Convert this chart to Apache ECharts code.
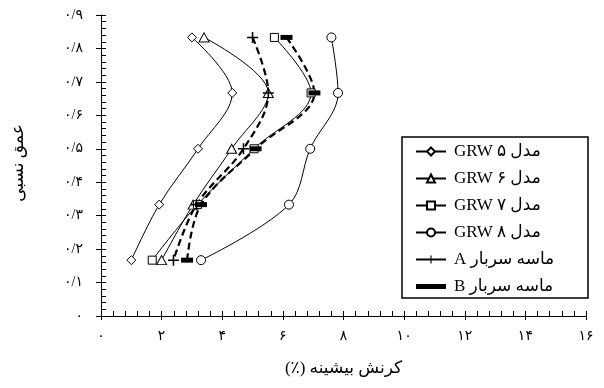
<!DOCTYPE html>
<html>
<head>
<meta charset="utf-8">
<script src="https://cdn.jsdelivr.net/npm/echarts@6/dist/echarts.min.js"></script>
<style>
  html, body { margin: 0; padding: 0; background: #fff; }
  #chart { width: 604px; height: 388px; }
</style>
</head>
<body>
<div id="chart"></div>
<script>
// Relative depth of each measuring level (shared by every profile)
const depth = [0.833, 0.667, 0.5, 0.333, 0.167];

// Peak strain (%) at each depth level
const grw5 = [3.0, 4.33, 3.2, 1.92, 1.0];
const grw6 = [3.4, 5.52, 4.31, 3.04, 2.0];
const grw7 = [5.72, 6.93, 5.05, 3.18, 1.69];
const grw8 = [7.6, 7.82, 6.9, 6.2, 3.3];
const surchargeA = [5.0, 5.52, 4.7, 3.15, 2.39];
const surchargeB = [6.12, 7.04, 5.1, 3.3, 2.84];

const seriesNames = ['مدل ۵ GRW', 'مدل ۶ GRW', 'مدل ۷ GRW', 'مدل ۸ GRW', 'ماسه سربار A', 'ماسه سربار B'];
const xTickLabels = ['۰', '۲', '۴', '۶', '۸', '۱۰', '۱۲', '۱۴', '۱۶'];
const yTickLabels = ['۰', '۰/۱', '۰/۲', '۰/۳', '۰/۴', '۰/۵', '۰/۶', '۰/۷', '۰/۸', '۰/۹'];
const xTitle = 'کرنش بیشینه (٪)';
const yTitle = 'عمق نسبی';

// right-to-left embedding so mixed Persian/Latin strings read correctly
const rtl = s => '\u202B' + s + '\u202C';
const pts = xs => xs.map((x, i) => [x, depth[i]]);

const FONT = '"Liberation Serif", "DejaVu Sans", serif';
const plusPath = 'path://M0,4.3H10V5.7H0Z M4.3,0H5.7V10H4.3Z';
const barPath = 'path://M0,0H30V5H0Z';

const hollow = { color: '#fff', borderColor: '#000', borderWidth: 1 };

function profile(idx, values, symbol, size, opts) {
  return Object.assign({
    type: 'line',
    name: rtl(seriesNames[idx]),
    data: pts(values),
    smooth: 0.35,
    symbol: symbol,
    symbolSize: size,
    color: '#000',
    itemStyle: hollow,
    lineStyle: { color: '#000', width: 1 },
    emphasis: { disabled: true },
    xAxisIndex: 0,
    yAxisIndex: 0,
    z: 3
  }, opts || {});
}

const series = [
  profile(0, grw5, 'diamond', [9, 9]),
  profile(1, grw6, 'triangle', [10, 9]),
  profile(2, grw7, 'rect', [8, 8]),
  profile(3, grw8, 'circle', 9),
  profile(4, surchargeA, plusPath, [11, 11], {
    itemStyle: { color: '#000', borderWidth: 0 },
    lineStyle: { color: '#000', width: 2.2, type: [7, 4] }
  }),
  profile(5, surchargeB, 'rect', [12, 5], {
    itemStyle: { color: '#000', borderWidth: 0 },
    lineStyle: { color: '#000', width: 2.2, type: [7, 4] }
  })
];

const axisLineStyle = { show: true, lineStyle: { color: '#000', width: 1 } };

const option = {
  backgroundColor: '#fff',
  animation: false,
  grid: { left: 101, right: 18, top: 15, bottom: 72, containLabel: false },
  legend: {
    orient: 'vertical',
    left: 402,
    top: 137,
    itemWidth: 30,
    itemHeight: 10,
    itemGap: 10,
    padding: [6, 9, 3, 13],
    borderColor: '#000',
    borderWidth: 1.5,
    selectedMode: false,
    textStyle: { fontFamily: FONT, fontSize: 17, color: '#000', lineHeight: 16, width: 125, padding: [0, 0, 0, 3] },
    data: [
      { name: rtl(seriesNames[0]) },
      { name: rtl(seriesNames[1]) },
      { name: rtl(seriesNames[2]) },
      { name: rtl(seriesNames[3]) },
      { name: rtl(seriesNames[4]), lineStyle: { type: 'solid', width: 2 } },
      { name: rtl(seriesNames[5]), icon: barPath, itemStyle: { color: '#000', borderWidth: 0 } }
    ]
  },
  xAxis: [
    {
      type: 'value', position: 'bottom', min: 0, max: 16, interval: 2,
      axisLine: axisLineStyle,
      axisTick: { show: true, inside: true, length: 5, lineStyle: { color: '#000' } },
      minorTick: { show: true, splitNumber: 5, length: 5, lineStyle: { color: '#000' } },
      splitLine: { show: false },
      axisLabel: {
        margin: 13, color: '#000', fontSize: 14, fontFamily: FONT,
        formatter: v => xTickLabels[Math.round(v / 2)]
      },
      name: rtl(xTitle), nameLocation: 'middle', nameGap: 44,
      nameTextStyle: { fontFamily: FONT, fontSize: 17, color: '#000' }
    },
    {
      type: 'value', position: 'bottom', min: 0, max: 16, interval: 2,
      axisLine: { show: false },
      axisTick: { show: true, inside: false, length: 4, lineStyle: { color: '#000' } },
      splitLine: { show: false },
      axisLabel: { show: false }
    }
  ],
  yAxis: [
    {
      type: 'value', position: 'left', min: 0, max: 0.9, interval: 0.1,
      axisLine: axisLineStyle,
      axisTick: { show: true, inside: true, length: 5, lineStyle: { color: '#000' } },
      minorTick: { show: true, splitNumber: 5, length: 5, lineStyle: { color: '#000' } },
      splitLine: { show: false },
      axisLabel: {
        margin: 18, color: '#000', fontSize: 14, fontFamily: FONT,
        formatter: v => yTickLabels[Math.round(v * 10)]
      },
      name: rtl(yTitle), nameLocation: 'middle', nameGap: 74, nameRotate: 90,
      nameTextStyle: { fontFamily: FONT, fontSize: 17, color: '#000', padding: [0, 0, 0, 5] }
    },
    {
      type: 'value', position: 'left', min: 0, max: 0.9, interval: 0.1,
      axisLine: { show: false },
      axisTick: { show: true, inside: false, length: 5, lineStyle: { color: '#000' } },
      splitLine: { show: false },
      axisLabel: { show: false }
    }
  ],
  series: series
};

const chart = echarts.init(document.getElementById('chart'), null, { renderer: 'canvas' });
chart.setOption(option);
</script>
</body>
</html>
